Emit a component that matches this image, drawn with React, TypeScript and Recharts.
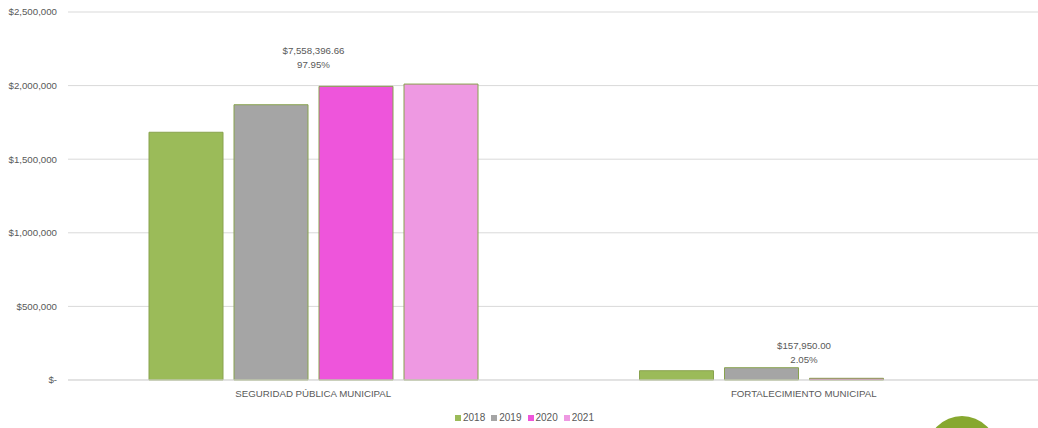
import React from 'react';
import { BarChart, Bar, XAxis, YAxis, CartesianGrid, Legend, LabelList } from 'recharts';

const categories = ['SEGURIDAD PÚBLICA MUNICIPAL', 'FORTALECIMIENTO MUNICIPAL'];
const years = ['2018', '2019', '2020', '2021'];
const values2018 = [1683000, 62950];
const values2019 = [1870000, 83500];
const values2020 = [1995000, 11500];
const values2021 = [2010396.66, 0];
const yTicks = [0, 500000, 1000000, 1500000, 2000000, 2500000];
const labelOffsets = [20, 8];

const colors = ['#9BBB59', '#A5A5A5', '#EE55DB', '#EE99E2'];
const barStroke = '#88A24E';
const textColor = '#595959';
const gridColor = '#D9D9D9';
const FONT = '"Liberation Sans", Arial, sans-serif';

const series = [values2018, values2019, values2020, values2021];
const data = categories.map((name, i) => {
  const row: any = { name };
  years.forEach((y, k) => {
    row[y] = series[k][i];
  });
  return row;
});
const totals = categories.map((_, i) => series.reduce((s, arr) => s + arr[i], 0));
const grandTotal = totals.reduce((a, b) => a + b, 0);

const fmtMoney = (v: number) => (v === 0 ? '$-' : '$' + v.toLocaleString('en-US'));
const fmtTotal = (v: number) =>
  '$' + v.toLocaleString('en-US', { minimumFractionDigits: 2, maximumFractionDigits: 2 });

const TotalLabel = (props: any) => {
  const { index } = props;
  const vb = props.viewBox || {};
  const x = props.x ?? vb.x;
  const y = props.y ?? vb.y;
  const width = props.width ?? vb.width;
  const height = props.height ?? vb.height;
  const value = series[1][index];
  if (x == null || !value) return null;
  const ppu = height / value;
  const baseline = y + height;
  const maxVal = Math.max(...series.map((s) => s[index]));
  const topY = baseline - maxVal * ppu;
  const cx = x + width + 5.5;
  const y2 = topY - labelOffsets[index];
  const share = ((totals[index] / grandTotal) * 100).toFixed(2) + '%';
  return (
    <g>
      <text x={cx} y={y2 - 14} textAnchor="middle" dominantBaseline="central" fontSize={9.7} fill={textColor} fontFamily={FONT}>
        {fmtTotal(totals[index])}
      </text>
      <text x={cx} y={y2} textAnchor="middle" dominantBaseline="central" fontSize={9.7} fill={textColor} fontFamily={FONT}>
        {share}
      </text>
    </g>
  );
};

const LegendContent = () => (
  <div
    style={{
      height: 26,
      boxSizing: 'border-box',
      paddingTop: 6,
      display: 'flex',
      justifyContent: 'center',
      fontFamily: FONT,
      fontSize: 10,
      color: textColor,
      paddingLeft: 6,
    }}
  >
    {years.map((y, k) => (
      <div key={y} style={{ display: 'flex', alignItems: 'center', marginRight: 6, lineHeight: '12px' }}>
        <span style={{ display: 'inline-block', width: 6, height: 6, background: colors[k], marginRight: 2 }} />
        <span>{y}</span>
      </div>
    ))}
  </div>
);

export default function App() {
  return (
    <div
      style={{
        position: 'fixed',
        left: 0,
        top: 0,
        width: 1038,
        height: 428,
        overflow: 'hidden',
        background: '#fff',
      }}
    >
      <BarChart
        width={1049}
        height={428}
        data={data}
        margin={{ top: 12, right: 0, left: 0, bottom: 0 }}
        barSize={74}
        barGap={11}
      >
        <CartesianGrid vertical={false} stroke={gridColor} />
        <XAxis
          dataKey="name"
          height={22}
          tickLine={false}
          tickSize={0}
          tickMargin={10}
          axisLine={{ stroke: gridColor }}
          tick={{ fontSize: 9.7, fill: textColor, fontFamily: FONT }}
          interval={0}
        />
        <YAxis
          width={68}
          domain={[0, 2500000]}
          ticks={yTicks}
          axisLine={false}
          tickLine={false}
          tickSize={0}
          tickMargin={11}
          tickFormatter={fmtMoney}
          tick={{ fontSize: 9.7, fill: textColor, fontFamily: FONT }}
        />
        <Legend verticalAlign="bottom" content={<LegendContent />} wrapperStyle={{ height: 26 }} />
        {years.map((y, k) => (
          <Bar key={y} dataKey={y} fill={colors[k]} stroke={barStroke} strokeWidth={1} isAnimationActive={false}>
            {k === 1 ? <LabelList dataKey={y} content={<TotalLabel />} /> : null}
          </Bar>
        ))}
      </BarChart>
      <div
        style={{
          position: 'absolute',
          left: 927,
          top: 416,
          width: 70,
          height: 70,
          borderRadius: '50%',
          background: '#87A82F',
        }}
      />
    </div>
  );
}
